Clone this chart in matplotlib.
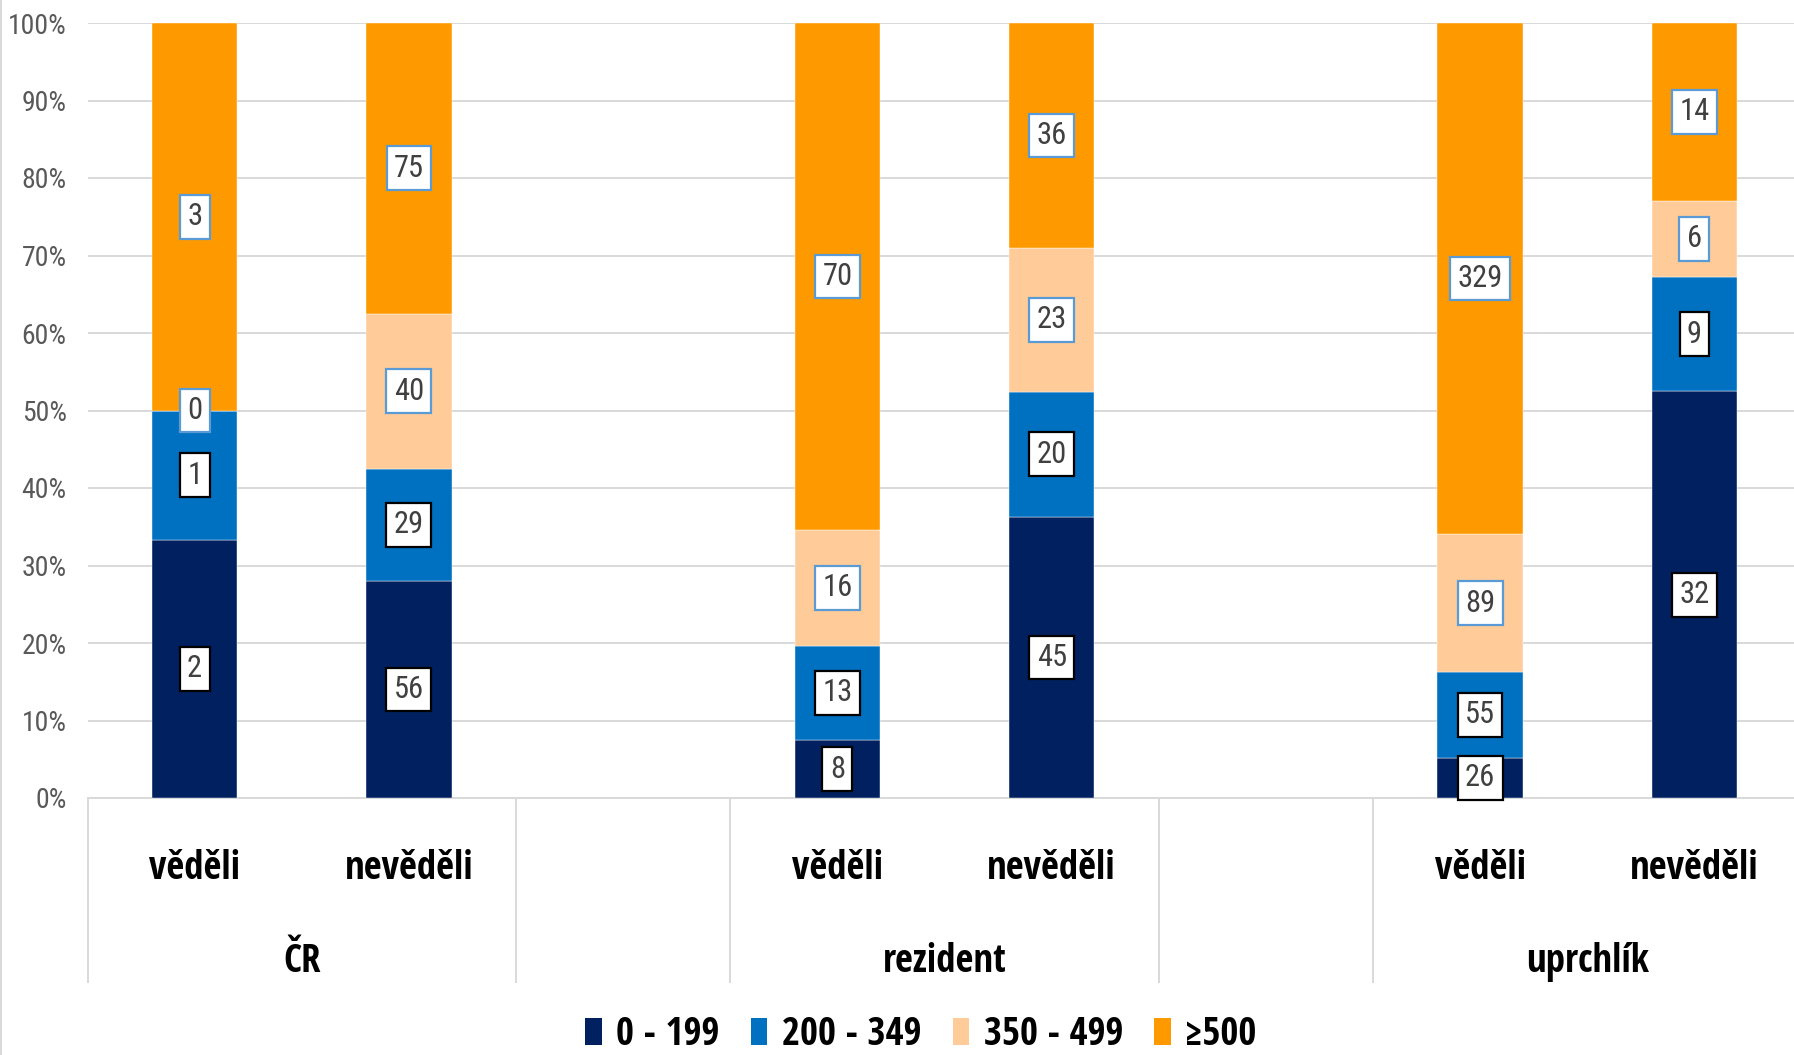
"""100% stacked columns: income bands by group and awareness."""
import matplotlib
matplotlib.use("Agg")
import matplotlib.pyplot as plt
from matplotlib.patches import Rectangle
from matplotlib.transforms import blended_transform_factory

groups = ["ČR", "rezident", "uprchlík"]
answers = ["věděli", "nevěděli"]
bands = ["0 - 199", "200 - 349", "350 - 499", "≥500"]
colors = ["#002060", "#0070C0", "#FFCC99", "#FF9900"]
label_edges = ["#000000", "#000000", "#5B9BD5", "#5B9BD5"]

# counts per band, bars ordered: ČR věděli, ČR nevěděli, rezident ..., uprchlík ...
band_0_199 = [2, 56, 8, 45, 26, 32]
band_200_349 = [1, 29, 13, 20, 55, 9]
band_350_499 = [0, 40, 16, 23, 89, 6]
band_500 = [3, 75, 70, 36, 329, 14]

plt.rcParams["font.family"] = ["Open Sans Condensed", "DejaVu Sans"]
REGULAR = ["Roboto Condensed", "Lato", "DejaVu Sans"]

W, H = 1794, 1055
fig = plt.figure(figsize=(W / 100, H / 100), dpi=100)
ax = fig.add_axes([87.5 / W, (H - 798) / H, 1714 / W, 775 / H])

series = [band_0_199, band_200_349, band_350_499, band_500]
totals = [sum(v) for v in zip(*series)]
positions = [g * 3 + j for g in range(len(groups)) for j in range(len(answers))]

bottoms = [0.0] * len(positions)
for values, color, edge in zip(series, colors, label_edges):
    shares = [100.0 * v / t for v, t in zip(values, totals)]
    ax.bar(positions, shares, width=0.4, bottom=bottoms, color=color,
           edgecolor="white", linewidth=0.3, zorder=3)
    for x, b, s, v in zip(positions, bottoms, shares, values):
        ax.text(x, b + s / 2, str(v), ha="center", va="center", fontsize=22,
                family=REGULAR, color="#404040", zorder=5,
                bbox=dict(boxstyle="square,pad=0.24", fc="white", ec=edge, lw=1.6))
    bottoms = [b + s for b, s in zip(bottoms, shares)]

ax.set_xlim(-0.5, 7.5)
ax.set_ylim(0, 100)
ax.set_yticks(range(0, 101, 10))
ax.set_yticklabels([f"{t}%" for t in range(0, 101, 10)], fontsize=20,
                   family=REGULAR, color="#595959")
ax.tick_params(axis="y", length=0, pad=15)
ax.yaxis.grid(True, color="#D9D9D9", linewidth=1.4, zorder=0)
ax.set_axisbelow(True)
for side in ["left", "right", "top"]:
    ax.spines[side].set_visible(False)
ax.spines["bottom"].set_color("#D9D9D9")
ax.spines["bottom"].set_linewidth(1.4)

ax.set_xticks([])
trans = blended_transform_factory(ax.transData, ax.transAxes)
for g, group in enumerate(groups):
    for j, answer in enumerate(answers):
        ax.text(g * 3 + j, -0.092, answer, transform=trans, ha="center", va="center",
                fontsize=28, fontweight="bold", color="black")
    ax.text(g * 3 + 0.5, -0.2115, group, transform=trans, ha="center", va="center",
            fontsize=28, fontweight="bold", color="black")

for edge in [-0.5, 1.5, 2.5, 4.5, 5.5]:
    ax.axvline(edge, ymin=-0.2374, ymax=0, color="#D9D9D9", linewidth=1.4, clip_on=False)

handles = [Rectangle((0, 0), 1, 1, fc=c, ec="none") for c in colors]
fig.legend(handles, bands, loc="center", bbox_to_anchor=(921 / W, 1 - 1035 / H), ncol=4,
           frameon=False, prop=dict(size=28, weight="bold"), handlelength=0.42,
           handleheight=0.7, handletextpad=0.38, columnspacing=0.8)

fig.add_artist(plt.Line2D([1 / W, 1 / W], [0, 1], color="#D9D9D9", linewidth=1.4))

fig.savefig("out.png", dpi=100)
